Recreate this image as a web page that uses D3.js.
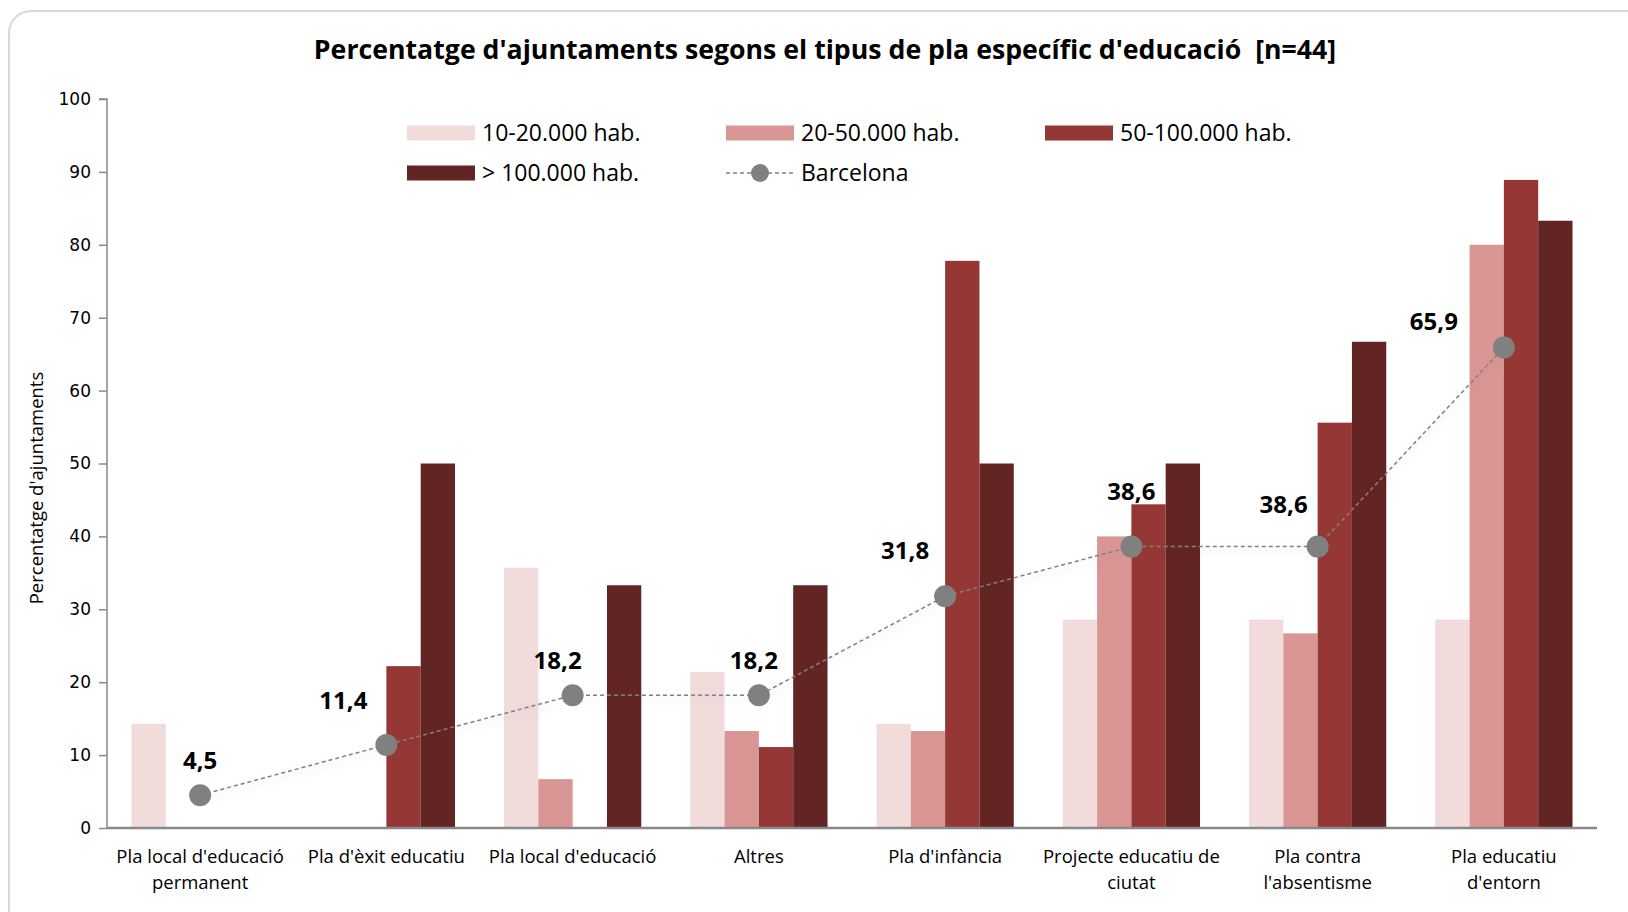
<!DOCTYPE html>
<html>
<head>
<meta charset="utf-8">
<script src="https://cdn.jsdelivr.net/npm/d3@7/dist/d3.min.js"></script>
<style>
    body { margin: 0; background: #fff; }
    svg text { font-family: "Open Sans", sans-serif; fill: #000; white-space: pre; }
    .tick text { font-family: "DejaVu Sans", sans-serif; }
</style>
</head>
<body>
<svg id="chart" width="1628" height="912"></svg>
<script>
    var categories = [
        ["Pla local d'educació", "permanent"],
        ["Pla d'èxit educatiu"],
        ["Pla local d'educació"],
        ["Altres"],
        ["Pla d'infància"],
        ["Projecte educatiu de", "ciutat"],
        ["Pla contra", "l'absentisme"],
        ["Pla educatiu", "d'entorn"]
    ];
    var seriesNames = ["10-20.000 hab.", "20-50.000 hab.", "50-100.000 hab.", "> 100.000 hab."];
    var s10_20 = [14.3, 0, 35.7, 21.4, 14.3, 28.6, 28.6, 28.6];
    var s20_50 = [0, 0, 6.7, 13.3, 13.3, 40.0, 26.7, 80.0];
    var s50_100 = [0, 22.2, 0, 11.1, 77.8, 44.4, 55.6, 88.9];
    var s100 = [0, 50.0, 33.3, 33.3, 50.0, 50.0, 66.7, 83.3];
    var barcelona = [4.5, 11.4, 18.2, 18.2, 31.8, 38.6, 38.6, 65.9];
    var yTicks = [0, 10, 20, 30, 40, 50, 60, 70, 80, 90, 100];

    var colors = ["#f2dcdb", "#d99694", "#953735", "#632523"];
    // hand-placed label nudges (dx, dy) as in the original
    var labelNudge = [[0, -35], [-43, -45], [-15, -35], [-5, -35], [-40, -46], [0, -55], [-34, -42], [-70, -26]];

    var svg = d3.select("#chart");
    var catKeys = categories.map(function(c) { return c.join(" "); });
    var seriesValues = [s10_20, s20_50, s50_100, s100];

    var mLeft = 107, mRight = 1597, mTop = 99, mBottom = 828;

    // frame
    svg.append("rect")
        .attr("x", 9).attr("y", 11)
        .attr("width", 1660).attr("height", 960)
        .attr("rx", 22)
        .attr("fill", "#fff")
        .attr("stroke", "#d9d9d9")
        .attr("stroke-width", 2);

    var defs = svg.append("defs");
    var f = defs.append("filter").attr("id", "shadow")
        .attr("x", "-10%").attr("y", "-50%").attr("width", "120%").attr("height", "200%");
    f.append("feDropShadow")
        .attr("dx", 0).attr("dy", 4).attr("stdDeviation", 4)
        .attr("flood-color", "#000").attr("flood-opacity", 0.18);

    var x0 = d3.scaleBand()
        .domain(catKeys)
        .range([mLeft, mRight])
        .paddingInner(0.263)
        .paddingOuter(0.1315);

    var x1 = d3.scaleBand()
        .domain(seriesNames)
        .range([0, x0.bandwidth()]);

    var y = d3.scaleLinear()
        .domain([0, 100])
        .range([mBottom, mTop]);

    svg.append("text")
        .attr("x", 825)
        .attr("y", 59)
        .attr("text-anchor", "middle")
        .attr("font-weight", "bold")
        .attr("font-size", 26.7)
        .text("Percentatge d'ajuntaments segons el tipus de pla específic d'educació  [n=44]");

    // bars
    seriesNames.forEach(function(name, si) {
        svg.append("g")
            .selectAll("rect")
            .data(seriesValues[si])
            .join("rect")
            .attr("x", function(d, i) { return x0(catKeys[i]) + x1(name); })
            .attr("y", function(d) { return y(d); })
            .attr("width", x1.bandwidth())
            .attr("height", function(d) { return mBottom - y(d); })
            .attr("fill", colors[si]);
    });

    // y axis
    var yAxis = svg.append("g")
        .attr("transform", "translate(" + mLeft + ",0)")
        .call(d3.axisLeft(y).tickValues(yTicks).tickSize(8).tickPadding(8));
    yAxis.selectAll("path, line").attr("stroke", "#898989").attr("stroke-width", 1.5);
    yAxis.select(".domain").attr("d", "M-8," + mTop + "H0V" + mBottom);
    yAxis.selectAll(".tick text").attr("font-size", 17).attr("fill", "#000");

    // x axis baseline
    var xAxis = svg.append("g")
        .attr("transform", "translate(0," + mBottom + ")")
        .call(d3.axisBottom(x0).tickSize(0).tickFormat(""));
    xAxis.select(".domain").attr("stroke", "#898989").attr("stroke-width", 2.5)
        .attr("d", "M" + mLeft + ",0H" + mRight);

    // category labels
    svg.append("g")
        .selectAll("text")
        .data(categories)
        .join("text")
        .attr("text-anchor", "middle")
        .attr("font-size", 18.5)
        .attr("x", function(d, i) { return x0(catKeys[i]) + x0.bandwidth() / 2; })
        .attr("y", 863)
        .selectAll("tspan")
        .data(function(d) { return d; })
        .join("tspan")
        .attr("x", function() { return d3.select(this.parentNode).attr("x"); })
        .attr("dy", function(d, j) { return j === 0 ? 0 : 26; })
        .text(function(d) { return d; });

    svg.append("text")
        .attr("transform", "translate(43,488) rotate(-90)")
        .attr("text-anchor", "middle")
        .attr("font-size", 18.5)
        .text("Percentatge d'ajuntaments");

    // Barcelona line
    var line = d3.line()
        .x(function(d, i) { return x0(catKeys[i]) + x0.bandwidth() / 2; })
        .y(function(d) { return y(d); });

    svg.append("path")
        .datum(barcelona)
        .attr("fill", "none")
        .attr("stroke", "#808080")
        .attr("stroke-width", 1.5)
        .attr("stroke-dasharray", "4,3")
        .attr("filter", "url(#shadow)")
        .attr("d", line);

    svg.append("g")
        .selectAll("circle")
        .data(barcelona)
        .join("circle")
        .attr("cx", function(d, i) { return x0(catKeys[i]) + x0.bandwidth() / 2; })
        .attr("cy", function(d) { return y(d); })
        .attr("r", 11)
        .attr("fill", "#808080");

    svg.append("g")
        .selectAll("text")
        .data(barcelona)
        .join("text")
        .attr("x", function(d, i) { return x0(catKeys[i]) + x0.bandwidth() / 2 + labelNudge[i][0]; })
        .attr("y", function(d, i) { return y(d) + labelNudge[i][1]; })
        .attr("dy", "0.36em")
        .attr("text-anchor", "middle")
        .attr("font-family", "DejaVu Sans, sans-serif")
        .attr("font-weight", "bold")
        .attr("font-size", 24)
        .text(function(d) { return String(d).replace(".", ","); });

    // legend
    var legendPos = [[407, 133], [726, 133], [1045, 133], [407, 173]];
    var legend = svg.append("g").attr("font-size", 23);
    seriesNames.forEach(function(name, si) {
        var p = legendPos[si];
        legend.append("rect")
            .attr("x", p[0]).attr("y", p[1] - 7.5)
            .attr("width", 68).attr("height", 15)
            .attr("fill", colors[si]);
        legend.append("text")
            .attr("x", p[0] + 75).attr("y", p[1])
            .attr("dy", "0.36em")
            .text(name);
    });
    legend.append("line")
        .attr("x1", 726).attr("x2", 794)
        .attr("y1", 173).attr("y2", 173)
        .attr("stroke", "#808080")
        .attr("stroke-width", 1.5)
        .attr("stroke-dasharray", "4,3");
    legend.append("circle")
        .attr("cx", 760).attr("cy", 173).attr("r", 9)
        .attr("fill", "#808080");
    legend.append("text")
        .attr("x", 801).attr("y", 173)
        .attr("dy", "0.36em")
        .text("Barcelona");
</script>
</body>
</html>
